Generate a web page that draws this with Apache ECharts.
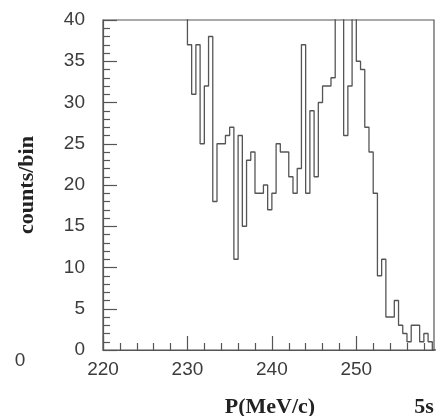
<!DOCTYPE html>
<html>
<head>
<meta charset="utf-8">
<script src="https://cdn.jsdelivr.net/npm/echarts@6/dist/echarts.min.js"></script>
<style>
html,body{margin:0;padding:0;background:#fff;}
#chart{width:436px;height:416px;}
</style>
</head>
<body>
<div id="chart"></div>
<script>
// Histogram: bins of 0.5 MeV/c starting at binStart; values above 40 are off-scale (clipped)
const binStart = 229.5;
const binWidth = 0.5;
const counts = [
  45,                                   // 229.5 (off-scale)
  37, 31, 37, 25, 32, 38, 18, 25, 25, 26, // 230.0 - 234.5
  27, 11, 26, 15, 23, 24, 19, 19, 20, 17, // 235.0 - 239.5
  19, 25, 24, 24, 21, 19, 22, 37, 19, 29, // 240.0 - 244.5
  21, 30, 32, 32, 33, 45, 45, 26, 32, 45, // 245.0 - 249.5
  35, 34, 27, 24, 19, 9, 11, 4, 4, 6,     // 250.0 - 254.5
  3, 2, 1, 3, 3, 1, 2, 1, 0, 0            // 255.0 - 259.5
];
const xMin = 220, xMax = 259.2;
const yMin = 0, yMax = 40;
const xMajorTicks = [220, 230, 240, 250];
const xMinorTicks = [222, 224, 226, 228, 232, 234, 236, 238, 242, 244, 246, 248, 252, 254, 256, 258];

const data = counts.map((c, i) => [binStart + i * binWidth, c]);
data.push([binStart + counts.length * binWidth, 0]);

const lineCol = '#555';
const labelCol = '#3c3c3c';
const chart = echarts.init(document.getElementById('chart'), null, {renderer: 'canvas'});
chart.setOption({
  animation: false,
  backgroundColor: '#fff',
  grid: {left: 103, top: 20, right: 2, bottom: 66, show: true, borderColor: lineCol, borderWidth: 1.2, backgroundColor: 'transparent'},
  xAxis: [{
    type: 'value', min: xMin, max: xMax, position: 'bottom',
    axisLine: {show: true, lineStyle: {color: lineCol, width: 1.2}},
    axisTick: {show: true, inside: true, length: 14, customValues: xMajorTicks, lineStyle: {color: lineCol, width: 1.2}},
    axisLabel: {show: true, customValues: xMajorTicks, margin: 10, color: labelCol, fontSize: 19, fontFamily: 'Liberation Sans'},
    splitLine: {show: false}
  }, {
    type: 'value', min: xMin, max: xMax, position: 'bottom',
    axisLine: {show: false},
    axisTick: {show: true, inside: true, length: 7, customValues: xMinorTicks, lineStyle: {color: lineCol, width: 1.2}},
    axisLabel: {show: false},
    splitLine: {show: false}
  }],
  yAxis: {
    type: 'value', min: yMin, max: yMax, interval: 5,
    axisLine: {show: true, lineStyle: {color: lineCol, width: 1.2}},
    axisTick: {show: true, inside: true, length: 14, lineStyle: {color: lineCol, width: 1.2}},
    minorTick: {show: true, splitNumber: 5, length: 7, lineStyle: {color: lineCol, width: 1.2}},
    axisLabel: {margin: 18, color: labelCol, fontSize: 19, fontFamily: 'Liberation Sans'},
    splitLine: {show: false}, minorSplitLine: {show: false}
  },
  series: [{
    type: 'line', step: 'end', data: data, showSymbol: false, clip: true,
    lineStyle: {color: lineCol, width: 1.3}, xAxisIndex: 0
  }],
  graphic: [
    {type: 'text', x: 27, y: 185, rotation: Math.PI / 2,
     style: {text: 'counts/bin', align: 'center', verticalAlign: 'middle', font: 'bold 22px "Liberation Serif"', fill: '#222'}},
    {type: 'text', x: 270, y: 407,
     style: {text: 'P(MeV/c)', align: 'center', verticalAlign: 'middle', font: 'bold 22px "Liberation Serif"', fill: '#222'}},
    {type: 'text', x: 424, y: 407,
     style: {text: '5s', align: 'center', verticalAlign: 'middle', font: 'bold 22px "Liberation Serif"', fill: '#222'}},
    {type: 'text', x: 20, y: 361,
     style: {text: '0', align: 'center', verticalAlign: 'middle', font: '19px "Liberation Sans"', fill: labelCol}}
  ]
});
</script>
</body>
</html>
